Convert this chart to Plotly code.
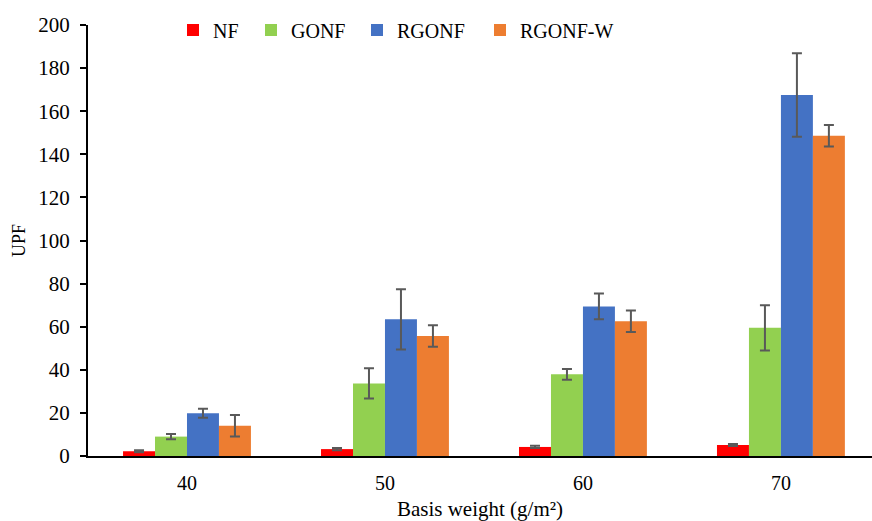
import plotly.graph_objects as go

categories = ["40", "50", "60", "70"]
series_names = ["NF", "GONF", "RGONF", "RGONF-W"]
colors = ["#FF0000", "#92D050", "#4472C4", "#ED7D31"]

nf = [2.2, 3.2, 4.2, 5.1]
nf_err = [0.5, 0.5, 0.5, 0.5]
gonf = [9.0, 33.7, 37.9, 59.5]
gonf_err = [1.2, 7.0, 2.5, 10.5]
rgonf = [19.8, 63.4, 69.4, 167.5]
rgonf_err = [2.1, 14.0, 6.0, 19.4]
rgonfw = [14.0, 55.7, 62.5, 148.6]
rgonfw_err = [5.0, 5.0, 5.0, 5.0]

values = [nf, gonf, rgonf, rgonfw]
errors = [nf_err, gonf_err, rgonf_err, rgonfw_err]
legend_ids = ["legend", "legend2", "legend3", "legend4"]
legend_x = [173, 251, 357, 480]

FONT = "Liberation Serif"

fig = go.Figure()
for name, col, v, e, lid in zip(series_names, colors, values, errors, legend_ids):
    fig.add_trace(go.Bar(
        x=categories, y=v, name=name, legend=lid,
        marker=dict(color=col, line=dict(width=0)),
        error_y=dict(type="data", array=e, visible=True,
                     color="#595959", thickness=2, width=5),
    ))

legend_common = dict(orientation="h", xanchor="left", yanchor="middle",
                     xref="container", yref="container",
                     font=dict(family=FONT, size=20, color="black"),
                     itemwidth=30, bgcolor="rgba(0,0,0,0)")
layout_legends = {}
for lid, lx in zip(legend_ids, legend_x):
    layout_legends[lid] = dict(legend_common, x=lx / 872, y=1 - 30 / 521)

fig.update_layout(
    width=872, height=521,
    margin=dict(l=88, r=0, t=25, b=65, autoexpand=False),
    paper_bgcolor="white", plot_bgcolor="white",
    barmode="group", bargap=0.354, bargroupgap=0,
    font=dict(family=FONT, size=20, color="black"),
    showlegend=True,
    xaxis=dict(type="category", range=[-0.5, 3.46], showline=True,
               linecolor="black", linewidth=2, ticks="", showgrid=False,
               automargin=False,
               tickfont=dict(family=FONT, size=20), ticklabelstandoff=8,
               title=dict(text="Basis weight (g/m²)", font=dict(family=FONT, size=21), standoff=9)),
    yaxis=dict(range=[0, 200], dtick=20, showline=True, linecolor="black",
               linewidth=2, ticks="outside", ticklen=6, tickwidth=1.5,
               tickcolor="black", showgrid=False, zeroline=False,
               automargin=False,
               tickfont=dict(family=FONT, size=21), ticklabelstandoff=6,
               title=dict(text="UPF", font=dict(family=FONT, size=18), standoff=8)),
    **layout_legends,
)

fig.write_html("out.html", config={"displayModeBar": False},
               post_script="document.body.style.margin='0';document.body.style.padding='0';")
